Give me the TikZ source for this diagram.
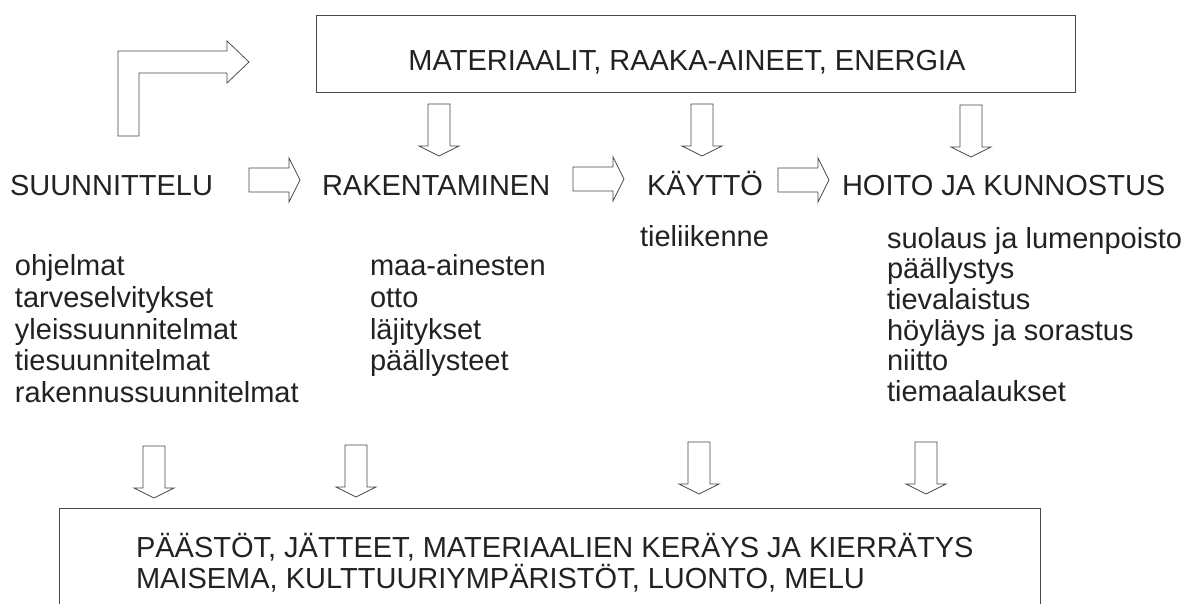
\documentclass[tikz,border=0pt]{standalone}
\usepackage{fontspec}
\setmainfont{Liberation Sans}
\definecolor{ink}{HTML}{222222}
\definecolor{edge}{HTML}{484848}
\begin{document}
\begin{tikzpicture}[x=1pt,y=-1pt,
  every node/.style={inner sep=0pt,outer sep=0pt,text=ink,font=\fontsize{29}{31}\selectfont},
  box/.style={draw=edge,line width=0.8pt},
  blk/.style={draw=edge,line width=0.75pt,fill=white,line join=miter},
  downarr/.pic={\draw[blk] (-11,0)--(-11,42)--(-20,42)--(0,52)--(20,42)--(11,42)--(11,0)--cycle;},
  rightarr/.pic={\draw[blk] (0,-12)--(40,-12)--(40,-22)--(51,0)--(40,22)--(40,12)--(0,12)--cycle;}]
\useasboundingbox[fill=white] (0,0) rectangle (1195,603);

% top box
\draw[box] (316,15) rectangle (1075,92);
\node[anchor=base] (mat) at (687,70) {MATERIAALIT, RAAKA-AINEET, ENERGIA};

% L arrow
\draw[blk] (118,136)--(118,51)--(227,51)--(227,41)--(249,62)--(227,83)--(227,73)--(139,73)--(139,136)--cycle;

% stages
\node[anchor=base west] (s1) at (10,195) {SUUNNITTELU};
\node[anchor=base west] (s2) at (322,195) {RAKENTAMINEN};
\node[anchor=base west] (s3) at (647,195) {KÄYTTÖ};
\node[anchor=base west] (s4) at (842,195) {HOITO JA KUNNOSTUS};

\pic at (249,180) {rightarr};
\pic at (573,179) {rightarr};
\pic at (778,180) {rightarr};

\pic at (439,104) {downarr};
\pic at (702,104) {downarr};
\pic at (971,105) {downarr};

% lists
\node[anchor=base west] (a1) at (15,275) {ohjelmat};
\node[anchor=base west] (a2) at (15,307) {tarveselvitykset};
\node[anchor=base west] (a3) at (15,339) {yleissuunnitelmat};
\node[anchor=base west] (a4) at (15,370) {tiesuunnitelmat};
\node[anchor=base west] (a5) at (15,402) {rakennussuunnitelmat};

\node[anchor=base west] (b1) at (370,275) {maa-ainesten};
\node[anchor=base west] (b2) at (370,307) {otto};
\node[anchor=base west] (b3) at (370,339) {läjitykset};
\node[anchor=base west] (b4) at (370,370) {päällysteet};

\node[anchor=base west] (c1) at (640,246) {tieliikenne};

\node[anchor=base west] (d1) at (887,248) {suolaus ja lumenpoisto};
\node[anchor=base west] (d2) at (887,278) {päällystys};
\node[anchor=base west] (d3) at (887,309) {tievalaistus};
\node[anchor=base west] (d4) at (887,340) {höyläys ja sorastus};
\node[anchor=base west] (d5) at (887,370) {niitto};
\node[anchor=base west] (d6) at (887,401) {tiemaalaukset};

\pic at (154,446) {downarr};
\pic at (356,445) {downarr};
\pic at (699,442) {downarr};
\pic at (926,442) {downarr};

% bottom box
\draw[box] (59,610)--(59,508)--(1040,508)--(1040,610);
\node[anchor=base west] (e1) at (136,557) {PÄÄSTÖT, JÄTTEET, MATERIAALIEN KERÄYS JA KIERRÄTYS};
\node[anchor=base west] (e2) at (136,588) {MAISEMA, KULTTUURIYMPÄRISTÖT, LUONTO, MELU};
\end{tikzpicture}
\end{document}
